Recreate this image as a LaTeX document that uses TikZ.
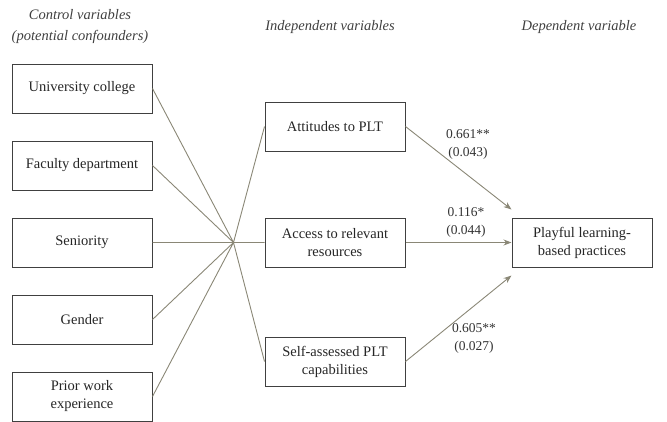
\documentclass[tikz,border=0pt]{standalone}
\usepackage{fontspec}
\setmainfont{Liberation Serif}
\usetikzlibrary{positioning,arrows.meta}
\definecolor{linkgray}{RGB}{138,135,118}
\definecolor{boxgray}{RGB}{64,64,64}
\tikzset{var node/.style={draw=boxgray,line width=1pt,minimum width=140pt,minimum height=49pt,inner sep=2pt,align=center,text=black!85,font=\fontsize{14.5}{18}\selectfont},
         head node/.style={text=black!75,align=center,font=\fontsize{14.5}{21}\selectfont\itshape},
         coef node/.style={text=black!80,align=center,font=\fontsize{13.5}{18}\selectfont},
         link/.style={draw=linkgray,line width=0.9pt},
         effect/.style={link,-{Stealth[length=8pt,width=6pt]}}}

\begin{document}
\begin{tikzpicture}[x=1pt,y=-1pt]
            \useasboundingbox (0,0) rectangle (667,421);
            % column headings
            \node[head node] (hctrl) at (80,27) {Control variables\\(potential confounders)};
            \node[head node] (hind) at (330,27) {Independent variables};
            \node[head node] (hdep) at (579,27) {Dependent variable};

            % control variables
            \node[var node] (uni) at (82,88.5) {University college};
            \node[var node] (fac) [below = 27pt of uni] {Faculty department};
            \node[var node] (sen) [below = 27pt of fac] {Seniority};
            \node[var node] (gen) [below = 27pt of sen] {Gender};
            \node[var node] (pwe) [below = 27pt of gen] {Prior work\\experience};
            \coordinate[right = 81pt of sen] (hub);

            % independent and dependent variables
            \node[var node] (acc) [right = 112pt of sen] {Access to relevant\\resources};
            \node[var node] (att) [above = 66pt of acc] {Attitudes to PLT};
            \node[var node] (sel) [below = 69pt of acc] {Self-assessed PLT\\capabilities};
            \node[var node] (play) [right = 106pt of acc] {Playful learning-\\based practices};
            \coordinate[above = 8pt of play.north west] (ptop);
            \coordinate[below = 8pt of play.south west] (pbot);

            \path[link]
            (uni.east) -- (hub)
            (fac.east) -- (hub)
            (sen.east) -- (hub)
            (gen.east) -- (hub)
            (pwe.east) -- (hub)
            (hub) -- (att.west)
            (hub) -- (acc.west)
            (hub) -- (sel.west);

            \draw[effect] (att.east) -- (ptop);
            \draw[effect] (acc.east) -- (play.west);
            \draw[effect] (sel.east) -- (pbot);

            \node[coef node] (c1) at (468,144) {0.661**\\(0.043)};
            \node[coef node] (c2) at (466,222) {0.116*\\(0.044)};
            \node[coef node] (c3) at (474,338) {0.605**\\(0.027)};
        \end{tikzpicture}
\end{document}
